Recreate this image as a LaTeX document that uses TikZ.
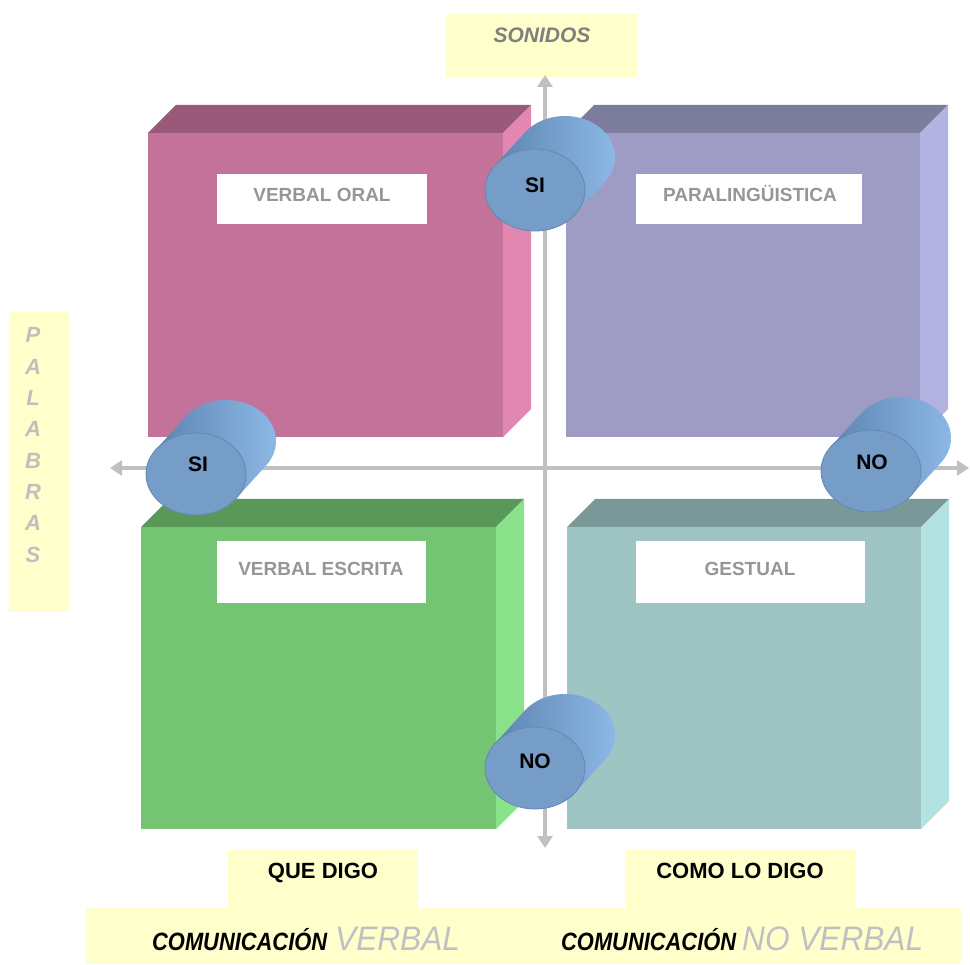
\documentclass[tikz,border=0pt]{standalone}
\usepackage{fontspec}
\setmainfont{Liberation Sans}
\newfontfamily\condb[FakeStretch=0.875]{Liberation Sans}
\newfontfamily\condc[FakeStretch=0.93]{Liberation Sans}
\usetikzlibrary{arrows.meta}
\definecolor{axisgray}{HTML}{C0C0C0}
\definecolor{paleyellow}{HTML}{FFFFCC}
\definecolor{pinkF}{HTML}{C37399}
\definecolor{pinkT}{HTML}{985A78}
\definecolor{pinkS}{HTML}{E187B2}
\definecolor{purpF}{HTML}{9E9BC4}
\definecolor{purpT}{HTML}{7C7C9C}
\definecolor{purpS}{HTML}{B3B3E2}
\definecolor{grnF}{HTML}{74C474}
\definecolor{grnT}{HTML}{5A985A}
\definecolor{grnS}{HTML}{8AE28A}
\definecolor{tealF}{HTML}{9EC4C4}
\definecolor{tealT}{HTML}{7A9898}
\definecolor{tealS}{HTML}{B3E2E2}
\definecolor{cylface}{HTML}{769CC8}
\definecolor{cyledge}{HTML}{6488B4}
\definecolor{cyldark}{HTML}{5A80AD}
\definecolor{cyllight}{HTML}{8CB8E6}
\definecolor{labgray}{HTML}{969696}
\definecolor{songray}{HTML}{7F7F7F}
\definecolor{palgray}{HTML}{BFBFBF}
\definecolor{vgray}{HTML}{C0C0C4}
\tikzset{
  axisline/.style={draw=axisgray, line width=4pt, {Triangle[width=15pt,length=12pt]}-{Triangle[width=15pt,length=12pt]}},
  boxlab/.style={inner sep=0pt, anchor=base, text=labgray, font=\bfseries\fontsize{19}{19}\selectfont},
  cyllab/.style={inner sep=0pt, anchor=base, text=black, font=\bfseries\fontsize{21}{21}\selectfont},
  blacklab/.style={inner sep=0pt, anchor=base, text=black, font=\bfseries\fontsize{22}{22}\selectfont},
  pal/.style={inner sep=0pt, anchor=base, text=palgray, font=\bfseries\itshape\fontsize{22}{22}\selectfont},
}
\newcommand{\cube}[7]{%
  \fill[#5] (#1,#2) rectangle (#3,#4);
  \fill[#6] (#1,#2) -- ({#1+28},{#2-28}) -- ({#3+28},{#2-28}) -- (#3,#2) -- cycle;
  \fill[#7] (#3,#2) -- ({#3+28},{#2-28}) -- ({#3+28},{#4-28}) -- (#3,#4) -- cycle;
}
\newcommand{\cyl}[2]{%
  \begin{scope}[shift={(#1,#2)}]
    \shade[left color=cyldark, right color=cyllight]
      plot[domain=216.7:396.7, samples=50, smooth] ({30+50*cos(\x)},{-33+41*sin(\x)})
      -- plot[domain=36.7:216.7, samples=50, smooth] ({50*cos(\x)},{41*sin(\x)}) -- cycle;
    \fill[cylface] (0,0) ellipse [x radius=50, y radius=41];
    \draw[cyledge, line width=0.8pt] (0,0) ellipse [x radius=50, y radius=41];
  \end{scope}}
\begin{document}
\begin{tikzpicture}[x=1pt,y=-1pt]
\useasboundingbox (0,0) rectangle (970,965);
% yellow label boxes
\fill[paleyellow] (446,14) rectangle (637,77);
\fill[paleyellow] (9,312) rectangle (69,612);
\fill[paleyellow] (228,850) rectangle (418,909);
\fill[paleyellow] (626,850) rectangle (856,909);
\fill[paleyellow] (86,908) rectangle (961,964);
% axes
\coordinate (vtop) at (545,75);
\coordinate (vbot) at (545,848);
\coordinate (hleft) at (110,468);
\coordinate (hright) at (969,468);
\draw[axisline] (vtop) -- (vbot);
\draw[axisline] (hleft) -- (hright);
% boxes
\cube{148}{133}{503}{437}{pinkF}{pinkT}{pinkS}
\cube{566}{133}{920}{437}{purpF}{purpT}{purpS}
\cube{141}{527}{496}{829}{grnF}{grnT}{grnS}
\cube{567}{527}{921}{829}{tealF}{tealT}{tealS}
% white label boxes
\fill[white] (217,174) rectangle (427,224);
\fill[white] (636,174) rectangle (862,224);
\fill[white] (217,541) rectangle (426,603);
\fill[white] (636,541) rectangle (865,603);
\node[boxlab] (vo) at (322,202) {VERBAL ORAL};
\node[boxlab] (pl) at (750,202) {PARALINGÜISTICA};
\node[boxlab] (ve) at (321,576) {VERBAL ESCRITA};
\node[boxlab] (ge) at (750,576) {GESTUAL};
% cylinders
\cyl{535}{190}
\cyl{196}{474}
\cyl{871}{471}
\cyl{535}{768}
\node[cyllab] (si1) at (535,193) {SI};
\node[cyllab] (si2) at (198,472) {SI};
\node[cyllab] (no1) at (872,470) {NO};
\node[cyllab] (no2) at (535,768) {NO};
% top label
\node[inner sep=0pt, anchor=base, text=songray, font=\bfseries\itshape\fontsize{21}{21}\selectfont] (son) at (542,43) {SONIDOS};
% PALABRAS
\node[pal] (p1) at (33,343) {P};
\node[pal] (p2) at (33,374.3) {A};
\node[pal] (p3) at (33,405.6) {L};
\node[pal] (p4) at (33,436.9) {A};
\node[pal] (p5) at (33,468.2) {B};
\node[pal] (p6) at (33,499.5) {R};
\node[pal] (p7) at (33,530.8) {A};
\node[pal] (p8) at (33,562.1) {S};
% bottom labels
\node[blacklab] (qd) at (323,878) {QUE DIGO};
\node[blacklab] (cd) at (740,878) {COMO LO DIGO};
\node[inner sep=0pt, anchor=base west] (cv) at (152,950)
  {{\condb\bfseries\itshape\fontsize{25}{25}\selectfont COMUNICACIÓN}\hspace{8pt}{\condc\itshape\fontsize{34}{34}\selectfont\color{vgray}VERBAL}};
\node[inner sep=0pt, anchor=base west] (cnv) at (561,950)
  {{\condb\bfseries\itshape\fontsize{25}{25}\selectfont COMUNICACIÓN}\hspace{6pt}{\condc\itshape\fontsize{34}{34}\selectfont\color{vgray}NO VERBAL}};
\end{tikzpicture}
\end{document}
